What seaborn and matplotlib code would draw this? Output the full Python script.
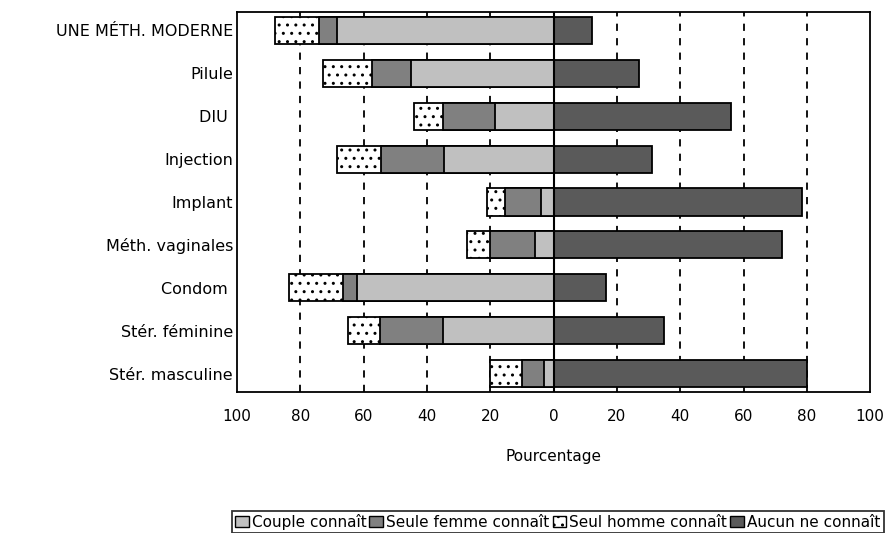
import numpy as np
import pandas as pd
import seaborn as sns
import matplotlib
matplotlib.use("Agg")
import matplotlib.pyplot as plt
from matplotlib.patches import Patch

# data (percentages)
categories = ["UNE MÉTH. MODERNE", "Pilule", "DIU ", "Injection", "Implant",
              "Méth. vaginales", "Condom ", "Stér. féminine", "Stér. masculine"]
couple = [68.5, 45, 18.5, 34.5, 4, 6, 62, 35, 3]
femme = [5.5, 12.5, 16.5, 20, 11.5, 14, 4.5, 20, 7]
homme = [14, 15.5, 9, 14, 5.5, 7.5, 17, 10, 10]
aucun = [12, 27, 56, 31, 78.5, 72, 16.5, 35, 80]
xticks = [-100, -80, -60, -40, -20, 0, 20, 40, 60, 80, 100]

sns.set_style("white")
plt.rcParams["font.family"] = ["DejaVu Sans"]
plt.rcParams["text.color"] = "black"
plt.rcParams["axes.labelcolor"] = "black"
plt.rcParams["xtick.color"] = "black"
plt.rcParams["ytick.color"] = "black"
plt.rcParams["hatch.linewidth"] = 1.0

df = pd.DataFrame({"cat": categories, "couple": couple, "femme": femme,
                   "homme": homme, "aucun": aucun})
# stacked to the left (negative side)
df["l_couple"] = -df["couple"]
df["l_femme"] = -(df["couple"] + df["femme"])
df["l_homme"] = -(df["couple"] + df["femme"] + df["homme"])

c_light = "#c0c0c0"
c_mid = "#808080"
c_dark = "#5a5a5a"

fig = plt.figure(figsize=(8.88, 5.33), dpi=100)
ax = fig.add_axes([0.267, 0.2645, 0.713, 0.713])

for v in [-80, -60, -40, -20, 20, 40, 60, 80]:
    ax.axvline(v, color="black", lw=1.3, ls=(0, (4, 4)), zorder=0)

w = 0.63
kw = dict(orient="h", width=w, edgecolor="black", linewidth=1.3, ax=ax, zorder=2)
sns.barplot(data=df, x="l_homme", y="cat", color="white", hatch="..", **kw)
sns.barplot(data=df, x="l_femme", y="cat", color=c_mid, **kw)
sns.barplot(data=df, x="l_couple", y="cat", color=c_light, **kw)
sns.barplot(data=df, x="aucun", y="cat", color=c_dark, **kw)
for p in ax.patches:
    p.set_facecolor(p.get_facecolor()[:3] + (1,))

ax.axvline(0, color="black", lw=1.5, zorder=4)

ax.set_xlim(-100, 100)
ax.set_ylim(8.43, -0.43)
ax.set_xticks(xticks)
ax.set_xticklabels([str(abs(t)) for t in xticks], fontsize=11)
ax.tick_params(axis="x", direction="in", length=5, width=1.3, pad=12, colors="black")
ax.tick_params(axis="y", length=0, pad=3, labelsize=11.5, colors="black")
ax.set_ylabel("")
ax.set_xlabel("Pourcentage", fontsize=11, labelpad=18, color="black")
for s in ax.spines.values():
    s.set_color("black")
    s.set_linewidth(1.3)

handles = [Patch(facecolor=c_light, edgecolor="black", label="Couple connaît"),
           Patch(facecolor=c_mid, edgecolor="black", label="Seule femme connaît"),
           Patch(facecolor="white", edgecolor="black", hatch="..", label="Seul homme connaît"),
           Patch(facecolor=c_dark, edgecolor="black", label="Aucun ne connaît")]
leg = fig.legend(handles=handles, loc="upper center", bbox_to_anchor=(0.628, 0.042),
                 ncol=4, fontsize=11, frameon=True, fancybox=False, handlelength=0.9,
                 handleheight=0.7, handletextpad=0.2, columnspacing=0.2,
                 borderpad=0.2, borderaxespad=0, labelcolor="black")
leg.get_frame().set_edgecolor("black")
leg.get_frame().set_linewidth(1.3)

fig.savefig("out.png", dpi=100)
